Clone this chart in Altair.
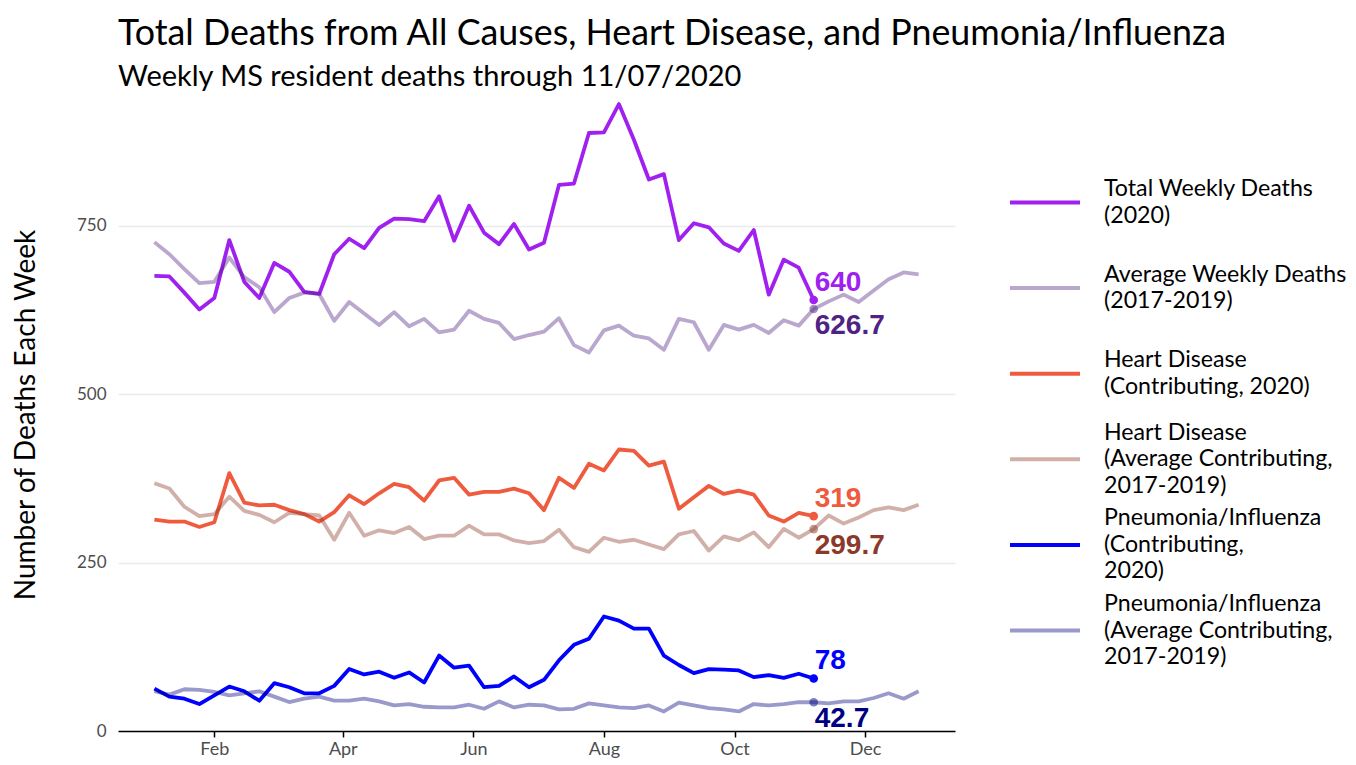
import altair as alt
import pandas as pd

# ---- data ----
series = [
    "Total Weekly Deaths|(2020)",
    "Average Weekly Deaths|(2017-2019)",
    "Heart Disease|(Contributing, 2020)",
    "Heart Disease|(Average Contributing,|2017-2019)",
    "Pneumonia/Influenza|(Contributing,|2020)",
    "Pneumonia/Influenza|(Average Contributing,|2017-2019)",
]
kinds = ["2020", "avg", "2020", "avg", "2020", "avg"]
colors = ["#A020F0", "#4F2283", "#EF5B3F", "#8B3A2A", "#0000FF", "#000080"]

total_2020 = [676, 675, 651, 626, 643, 729, 667, 643, 695, 682, 652, 649, 708, 731, 717,
              747, 761, 760, 757, 794, 728, 780, 740, 723, 753, 715, 725, 811, 813, 888,
              889, 931, 878, 819, 827, 729, 754, 748, 724, 713, 744, 648, 700, 688, 640]
total_avg = [726, 708, 686, 665, 667, 703, 674, 659, 622, 643, 651, 649, 609, 637, 620,
             603, 622, 601, 612, 592, 596, 624, 612, 606, 582, 588, 593, 613, 573, 562,
             595, 602, 587, 583, 566, 612, 607, 566, 603, 596, 603, 591, 610, 602, 626.7,
             638, 648, 637, 654, 671, 681, 678]
heart_2020 = [314, 311, 311, 303, 310, 383, 339, 335, 336, 328, 322, 311, 325, 350, 337,
              353, 367, 362, 342, 372, 376, 351, 355, 355, 360, 353, 328, 376, 361, 397,
              387, 418, 416, 394, 400, 330, 347, 364, 352, 357, 351, 320, 311, 324, 319]
heart_avg = [368, 360, 333, 319, 322, 348, 327, 321, 310, 324, 322, 320, 284, 324, 290,
             298, 294, 303, 285, 290, 290, 305, 292, 292, 283, 279, 282, 299, 273, 266,
             287, 281, 284, 277, 270, 292, 297, 268, 289, 283, 295, 273, 300, 287, 299.7,
             320, 308, 317, 328, 332, 328, 336]
pneu_2020 = [63, 51, 48, 40, 53, 66, 59, 45, 71, 65, 56, 56, 67, 92, 84,
             88, 79, 87, 72, 112, 94, 97, 65, 67, 81, 65, 76, 105, 128, 137,
             170, 164, 152, 152, 112, 98, 86, 92, 91, 90, 80, 83, 79, 85, 78]
pneu_avg = [59, 54, 62, 61, 58, 53, 56, 59, 51, 43, 48, 51, 45, 45, 48,
            44, 38, 40, 36, 35, 35, 39, 33, 44, 35, 39, 38, 32, 33, 41,
            38, 35, 34, 38, 29, 42, 38, 34, 32, 29, 40, 38, 40, 43, 42.7,
            41, 44, 44, 49, 56, 48, 59]

values = [total_2020, total_avg, heart_2020, heart_avg, pneu_2020, pneu_avg]
week_dates = pd.date_range("2020-01-04", periods=52, freq="7D").strftime("%Y-%m-%d").tolist()
last_week = "2020-11-07"
month_ticks = [2, 4, 6, 8, 10, 12]

rows = []
for s, k, vals in zip(series, kinds, values):
    for d, v in zip(week_dates, vals):
        rows.append({"date": d, "value": v, "series": s, "kind": k})
df = pd.DataFrame(rows)

end_rows = []
for s, k, vals in zip(series, kinds, values):
    v = vals[week_dates.index(last_week)]
    end_rows.append({"date": last_week, "value": v, "series": s, "kind": k,
                     "label": f"{v:g}"})
end_df = pd.DataFrame(end_rows)

leg_entries = pd.DataFrame({"series": series, "kind": kinds, "rank": list(range(len(series)))})
leg_lines = []
for i, s in enumerate(series):
    parts = s.split("|")
    for j, p in enumerate(parts):
        leg_lines.append({"series": s, "rank": i, "line": j, "nlines": len(parts), "text": p})
leg_lines = pd.DataFrame(leg_lines)

# ---- encodings ----
x_enc = alt.X(
    "date:T",
    scale=alt.Scale(type="utc", domain=[alt.DateTime(year=2019, month=12, date=18, utc=True),
                                        alt.DateTime(year=2021, month=1, date=12, utc=True)]),
    axis=alt.Axis(
        title=None,
        values=[alt.DateTime(year=2020, month=m, date=1, utc=True) for m in month_ticks],
        labelExpr="utcFormat(datum.value, '%b')",
        domainColor="black", domainWidth=1.5,
        tickColor="black", tickWidth=1.5, tickSize=6,
        labelColor="#4D4D4D", labelFontSize=18, labelPadding=3,
        grid=False,
    ),
)
y_enc = alt.Y(
    "value:Q",
    scale=alt.Scale(domain=[0, 940], nice=False),
    axis=alt.Axis(
        values=[0, 250, 500, 750],
        title="Number of Deaths Each Week",
        titleFontSize=28, titleFontWeight="normal", titleColor="black",
        titlePadding=36,
        labelColor="#4D4D4D", labelFontSize=17, labelPadding=12,
        domain=False, ticks=False,
        grid=True, gridColor="#EBEBEB", gridWidth=1.5,
    ),
)
color_scale = alt.Scale(domain=series, range=colors)
col = alt.Color("series:N", scale=color_scale, legend=None)

base = alt.Chart(df)
cur_lines = base.transform_filter(alt.datum.kind == "2020").mark_line(
    strokeWidth=3.8, strokeJoin="round").encode(x=x_enc, y=y_enc, color=col)
avg_lines = base.transform_filter(alt.datum.kind == "avg").mark_line(
    strokeWidth=3.8, strokeJoin="round", opacity=0.4).encode(x=x_enc, y=y_enc, color=col)

end_base = alt.Chart(end_df)
pts_cur = end_base.transform_filter(alt.datum.kind == "2020").mark_point(
    filled=True, size=75, opacity=1).encode(x=x_enc, y=y_enc, color=col)
pts_avg = end_base.transform_filter(alt.datum.kind == "avg").mark_point(
    filled=True, size=75, opacity=0.5).encode(x=x_enc, y=y_enc, color=col)
text_cur = end_base.transform_filter(alt.datum.kind == "2020").mark_text(
    align="left", baseline="middle", dx=1, dy=-17,
    font="Liberation Sans", fontWeight="bold", fontSize=28).encode(
    x=x_enc, y=y_enc, text="label:N", color=col)
text_avg = end_base.transform_filter(alt.datum.kind == "avg").mark_text(
    align="left", baseline="middle", dx=1, dy=17,
    font="Liberation Sans", fontWeight="bold", fontSize=28).encode(
    x=x_enc, y=y_enc, text="label:N", color=col)

main = alt.layer(cur_lines, avg_lines, pts_cur, pts_avg, text_cur, text_avg)

# ---- legend drawn as its own layer (key lines + wrapped labels) ----
leg_scale = alt.Scale(domain=[0, 5], range=[104.5, 532.5], nice=False, zero=False)
leg_rule_cur = alt.Chart(leg_entries).transform_filter(alt.datum.kind == "2020").mark_rule(
    strokeWidth=4).encode(
    x=alt.value(892), x2=alt.value(962),
    y=alt.Y("rank:Q", scale=leg_scale, axis=None), color=col)
leg_rule_avg = alt.Chart(leg_entries).transform_filter(alt.datum.kind == "avg").mark_rule(
    strokeWidth=4, opacity=0.4).encode(
    x=alt.value(892), x2=alt.value(962),
    y=alt.Y("rank:Q", scale=leg_scale, axis=None), color=col)
leg_text = alt.Chart(leg_lines).transform_calculate(
    ypos="datum.rank + (datum.line - (datum.nlines - 1) / 2) * 0.31"
).mark_text(align="left", baseline="middle", fontSize=23.2, font="Lato", color="black").encode(
    x=alt.value(986),
    y=alt.Y("ypos:Q", scale=leg_scale, axis=None),
    text="text:N",
)
legend_layer = alt.layer(leg_rule_cur, leg_rule_avg, leg_text)

chart = alt.layer(main, legend_layer).resolve_scale(y="independent").properties(
    width=837, height=633,
    padding={"left": 4, "top": 7, "right": 0, "bottom": 0},
    title=alt.Title(
        "Total Deaths from All Causes, Heart Disease, and Pneumonia/Influenza",
        subtitle="Weekly MS resident deaths through 11/07/2020",
        anchor="start", frame="group",
        font="Lato", fontSize=35.8, fontWeight="normal", color="black",
        subtitleFont="Lato", subtitleFontSize=29, subtitleColor="black",
        subtitlePadding=10.5, offset=5,
    ),
).configure(font="Lato").configure_view(stroke=None).configure_axis(
    labelFont="Lato", titleFont="Lato")

chart.save("out.html", embed_options={"renderer": "svg", "actions": False})
